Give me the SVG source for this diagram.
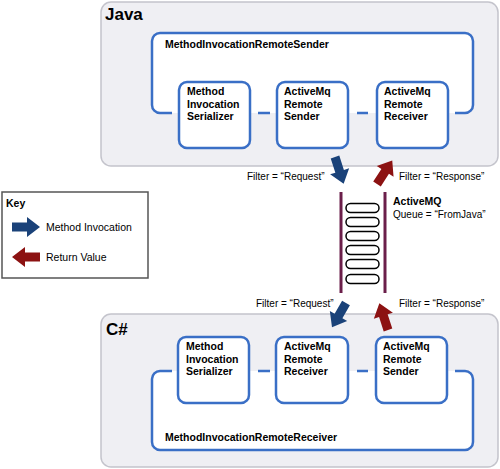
<svg xmlns="http://www.w3.org/2000/svg" xmlns:xlink="http://www.w3.org/1999/xlink" width="500" height="469" viewBox="0 0 500 469">
<style>
.panel{fill:#efeff3;stroke:#c4c4cc;stroke-width:1.5}
.outer{fill:none;stroke:#3a6fc6;stroke-width:2.5;stroke-linecap:butt}
.ofill{fill:#ffffff;stroke:none}
.box{fill:#ffffff;stroke:#3a6fc6;stroke-width:2.5}
.title{font-family:"Liberation Sans",Arial,sans-serif;font-weight:bold;font-size:17px;fill:#000}
.bt{font-family:"Liberation Sans",Arial,sans-serif;font-weight:bold;font-size:10.5px;fill:#000}
.lt{font-family:"Liberation Sans",Arial,sans-serif;font-size:10px;fill:#000}
.kt{font-family:"Liberation Sans",Arial,sans-serif;font-size:10.5px;fill:#000}
.bar{stroke:#6b1f4a;stroke-width:3}
.pill{fill:#ffffff;stroke:#000;stroke-width:1.5}
.blue{fill:#1a4279}
.red{fill:#8c1212}
</style>
<defs>
<path id="arr" d="M0,-4.5 H15 V-10 L28,0 L15,10 V4.5 H0 Z"/>
</defs>

<g id="java">
<rect class="panel" x="101" y="2" width="397" height="164" rx="10"/>
<text class="title" x="105" y="20">Java</text>
</g>
<g id="sender">
<rect class="ofill" x="152" y="33" width="321" height="80" rx="8"/>
<path class="outer" d="M172,113 H160 A8,8 0 0 1 152,105 V41 A8,8 0 0 1 160,33 H465 A8,8 0 0 1 473,41 V105 A8,8 0 0 1 465,113 H455 M258,113 H270 M357,113 H368"/>
<text class="bt" x="165" y="48">MethodInvocationRemoteSender</text>
</g>
<g id="j-serializer">
<rect class="box" x="179" y="82" width="71" height="66" rx="8"/>
<text class="bt" x="187" y="95">Method</text>
<text class="bt" x="187" y="108">Invocation</text>
<text class="bt" x="187" y="120">Serializer</text>
</g>
<g id="j-sender">
<rect class="box" x="277" y="82" width="71" height="66" rx="8"/>
<text class="bt" x="284" y="95">ActiveMq</text>
<text class="bt" x="284" y="108">Remote</text>
<text class="bt" x="284" y="120">Sender</text>
</g>
<g id="j-receiver">
<rect class="box" x="377" y="82" width="71" height="66" rx="8"/>
<text class="bt" x="384" y="95">ActiveMq</text>
<text class="bt" x="384" y="108">Remote</text>
<text class="bt" x="384" y="120">Receiver</text>
</g>

<g id="csharp">
<rect class="panel" x="101" y="314" width="397" height="153" rx="10"/>
<text class="title" x="106" y="335">C#</text>
</g>
<g id="receiver">
<rect class="ofill" x="152" y="371" width="321" height="79" rx="8"/>
<path class="outer" d="M172,371 H160 A8,8 0 0 0 152,379 V442 A8,8 0 0 0 160,450 H465 A8,8 0 0 0 473,442 V379 A8,8 0 0 0 465,371 H455 M258,371 H270 M357,371 H368"/>
<text class="bt" x="165" y="441">MethodInvocationRemoteReceiver</text>
</g>
<g id="c-serializer">
<rect class="box" x="178" y="337" width="71" height="66" rx="8"/>
<text class="bt" x="186" y="350">Method</text>
<text class="bt" x="186" y="363">Invocation</text>
<text class="bt" x="186" y="375">Serializer</text>
</g>
<g id="c-receiver">
<rect class="box" x="276" y="337" width="72" height="66" rx="8"/>
<text class="bt" x="284" y="350">ActiveMq</text>
<text class="bt" x="284" y="363">Remote</text>
<text class="bt" x="284" y="375">Receiver</text>
</g>
<g id="c-sender">
<rect class="box" x="376" y="337" width="71" height="66" rx="8"/>
<text class="bt" x="383" y="350">ActiveMq</text>
<text class="bt" x="383" y="363">Remote</text>
<text class="bt" x="383" y="375">Sender</text>
</g>

<g id="queue">
<line class="bar" x1="341" y1="192" x2="341" y2="293"/>
<line class="bar" x1="385" y1="192" x2="385" y2="293"/>
<rect class="pill" x="346" y="203.5" width="33" height="9" rx="4.5"/>
<rect class="pill" x="346" y="217.5" width="33" height="9" rx="4.5"/>
<rect class="pill" x="346" y="231.5" width="33" height="9" rx="4.5"/>
<rect class="pill" x="346" y="245.5" width="33" height="9" rx="4.5"/>
<rect class="pill" x="346" y="259.5" width="33" height="9" rx="4.5"/>
<rect class="pill" x="346" y="274.5" width="33" height="9" rx="4.5"/>
<text class="bt" x="393" y="205">ActiveMQ</text>
<text class="lt" x="393" y="218">Queue = “FromJava”</text>
</g>

<g id="connectors">
<use xlink:href="#arr" class="blue" transform="translate(335,157) rotate(72)"/>
<use xlink:href="#arr" class="red" transform="translate(377,184) rotate(-57)"/>
<use xlink:href="#arr" class="blue" transform="translate(346,303) rotate(120)"/>
<use xlink:href="#arr" class="red" transform="translate(388,330) rotate(-108)"/>
<text class="lt" x="247" y="180">Filter = “Request”</text>
<text class="lt" x="399" y="180">Filter = “Response”</text>
<text class="lt" x="256" y="307">Filter = “Request”</text>
<text class="lt" x="399" y="307">Filter = “Response”</text>
</g>

<g id="key">
<rect x="2" y="192" width="146" height="86" fill="#ffffff" stroke="#555555" stroke-width="1.5"/>
<text class="bt" x="6" y="207">Key</text>
<use xlink:href="#arr" class="blue" transform="translate(12,227)"/>
<text class="kt" x="46" y="231">Method Invocation</text>
<use xlink:href="#arr" class="red" transform="translate(40,257) rotate(180)"/>
<text class="kt" x="46" y="261">Return Value</text>
</g>
</svg>
